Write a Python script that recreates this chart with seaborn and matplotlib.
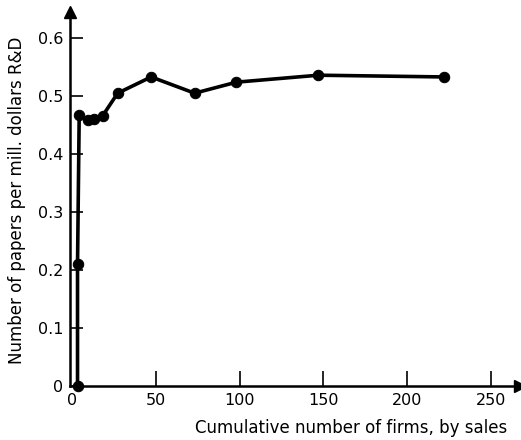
import matplotlib
matplotlib.use("Agg")
import matplotlib.pyplot as plt
import seaborn as sns
import pandas as pd

firms = [3, 3, 4, 9, 13, 18, 27, 47, 73, 98, 147, 222]
papers = [0.0, 0.21, 0.467, 0.459, 0.461, 0.466, 0.505, 0.533, 0.505, 0.524, 0.536, 0.533]
xticks = [0, 50, 100, 150, 200, 250]
yticks = [0, 0.1, 0.2, 0.3, 0.4, 0.5, 0.6]
ytick_labels = ["0", "0.1", "0.2", "0.3", "0.4", "0.5", "0.6"]

sns.set_theme(style="white")
plt.rcParams['font.family'] = ['DejaVu Sans']

df = pd.DataFrame({"firms": firms, "papers": papers})

fig = plt.figure(figsize=(5.21, 4.40), dpi=100)
ax = fig.add_axes([70/521, 1-386/440, 450/521, (386-12)/440])

sns.lineplot(data=df, x="firms", y="papers", estimator=None, sort=False,
             color="black", linewidth=2.6, marker="o", markersize=7.5,
             markeredgecolor="black", ax=ax)
for ln in ax.lines:
    ln.set_clip_on(False)

ax.set_xlim(-1.5, 267.5)
ax.set_ylim(0, 0.645)
ax.set_xticks(xticks)
ax.set_xticklabels([str(t) for t in xticks])
ax.set_yticks(yticks)
ax.set_yticklabels(ytick_labels)

for s in ["top", "right"]:
    ax.spines[s].set_visible(False)
for s in ["left", "bottom"]:
    ax.spines[s].set_color("black")
    ax.spines[s].set_linewidth(1.8)

ax.tick_params(axis="x", direction="in", length=11, width=1.2, colors="black",
               labelsize=11.5, pad=5, bottom=True)
ax.tick_params(axis="y", direction="in", length=9, width=1.2, colors="black",
               labelsize=11.5, pad=5, left=True)
ax.xaxis.get_major_ticks()[0].tick1line.set_visible(False)

# arrowheads at the ends of the axes
ax.plot(1, 0, ">", color="black", markersize=9, transform=ax.transAxes, clip_on=False)
ax.plot(0, 1, "^", color="black", markersize=9, transform=ax.transAxes, clip_on=False)

ax.set_xlabel("")
ax.set_ylabel("")
fig.text(507/521, 1-428/440, "Cumulative number of firms, by sales", ha="right",
         va="center", fontsize=12, color="black")
fig.text(17/521, 1-200/440, "Number of papers per mill. dollars R&D", ha="center",
         va="center", rotation=90, fontsize=12, color="black")

fig.savefig("out.png", dpi=100)
